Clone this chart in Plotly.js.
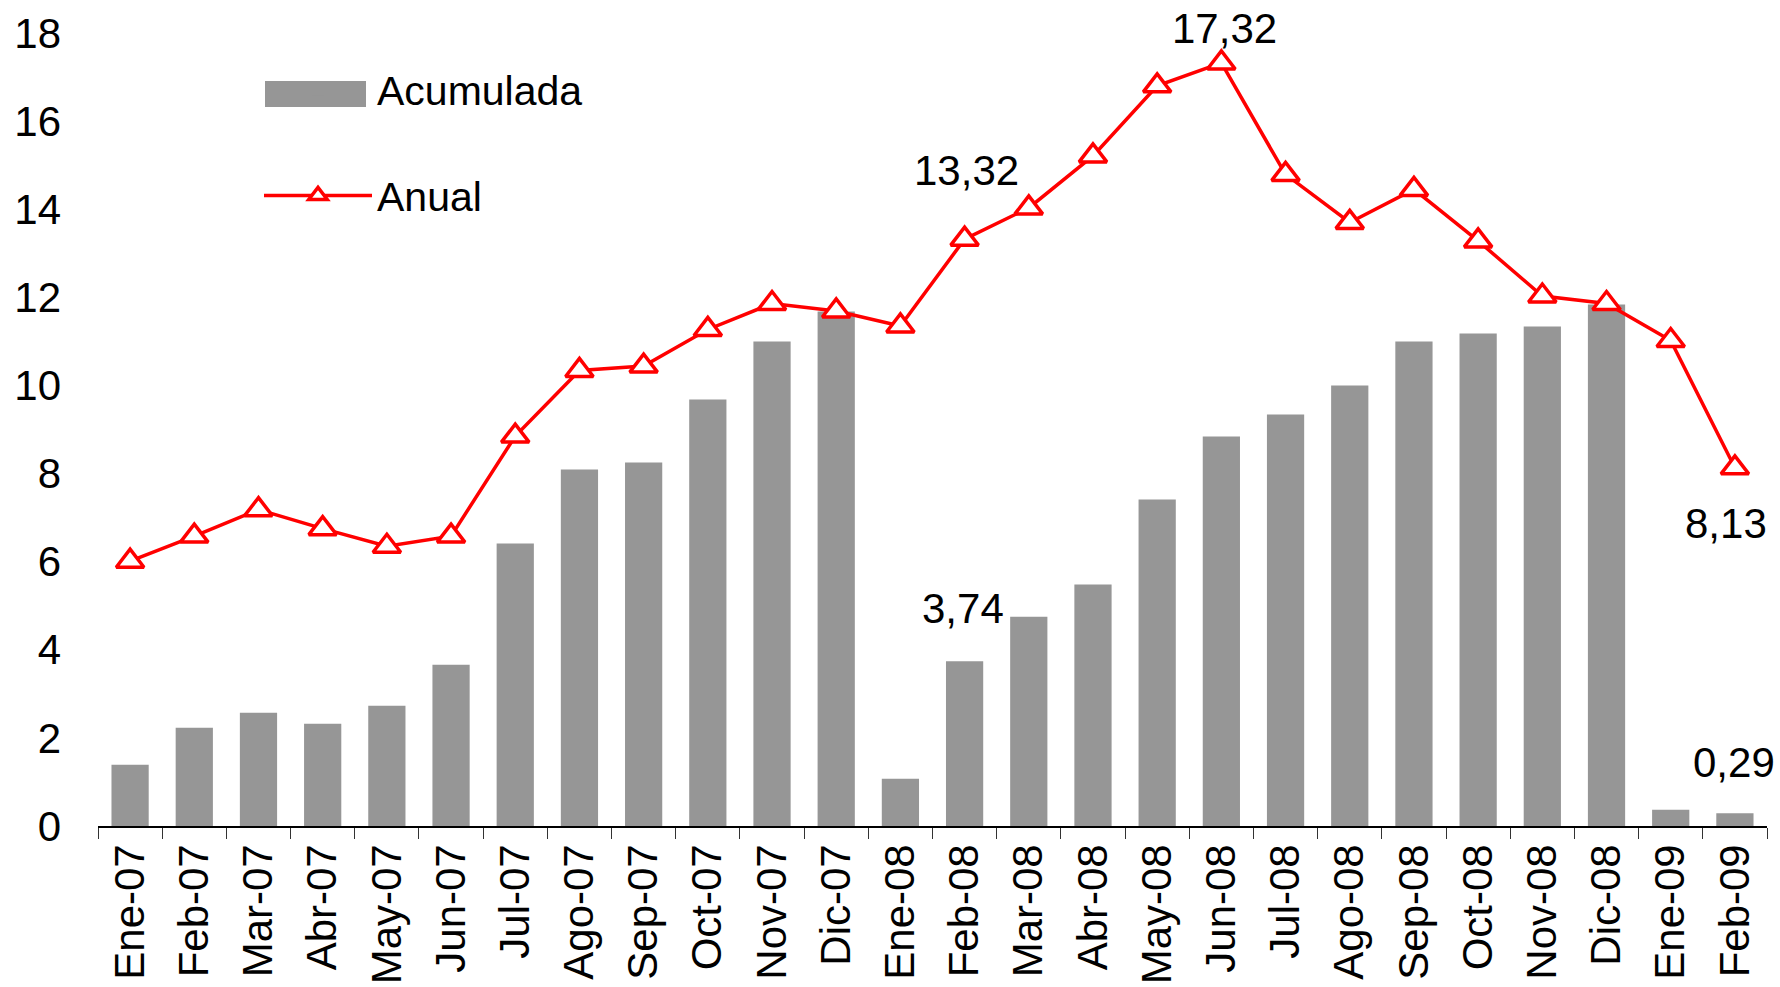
<!DOCTYPE html>
<html>
<head>
<meta charset="utf-8">
<script src="https://cdn.plot.ly/plotly-3.0.1.min.js"></script>
<style>
  html, body { margin: 0; padding: 0; background: #ffffff; }
  #chart { width: 1780px; height: 987px; }
</style>
</head>
<body>
<div id="chart"></div>
<script>
// ---- data ----
const categories = ["Ene-07","Feb-07","Mar-07","Abr-07","May-07","Jun-07","Jul-07","Ago-07","Sep-07","Oct-07","Nov-07","Dic-07",
                    "Ene-08","Feb-08","Mar-08","Abr-08","May-08","Jun-08","Jul-08","Ago-08","Sep-08","Oct-08","Nov-08","Dic-08",
                    "Ene-09","Feb-09"];
const acumulada = [1.39, 2.23, 2.57, 2.32, 2.73, 3.66, 6.41, 8.09, 8.25, 9.68, 11.00, 11.68,
                   1.07, 3.74, 4.75, 5.48, 7.41, 8.84, 9.34, 10.00, 11.00, 11.18, 11.34, 11.84,
                   0.37, 0.29];
const anual = [6.01, 6.58, 7.18, 6.75, 6.35, 6.58, 8.85, 10.34, 10.44, 11.27, 11.86, 11.69,
               11.35, 13.32, 14.03, 15.21, 16.80, 17.32, 14.79, 13.70, 14.45, 13.28, 12.03, 11.86,
               11.02, 8.13];
const seriesNames = ["Acumulada", "Anual"];
const yTicks = [0, 2, 4, 6, 8, 10, 12, 14, 16, 18];
// labelled points: [series, category, text]
const labelled = [
  ["anual", "Feb-08", "13,32"],
  ["anual", "Jun-08", "17,32"],
  ["anual", "Feb-09", "8,13"],
  ["acumulada", "Feb-08", "3,74"],
  ["acumulada", "Feb-09", "0,29"]
];

// ---- style ----
const FONT = "'Liberation Sans', Arial, sans-serif";
const BAR_COLOR = "#969696";
const LINE_COLOR = "#ff0000";

const traces = [
  {
    type: "bar", name: seriesNames[0], x: categories, y: acumulada,
    marker: { color: BAR_COLOR, line: { width: 0 } },
    legendgroup: "a", hoverinfo: "x+y"
  },
  {
    type: "scatter", mode: "lines+markers", name: seriesNames[1], x: categories, y: anual,
    line: { color: LINE_COLOR, width: 3.5 },
    marker: { symbol: "triangle-up", size: 24, color: "#ffffff", line: { color: LINE_COLOR, width: 3.5 } },
    cliponaxis: false, legendgroup: "b", hoverinfo: "x+y"
  }
];

// label offsets (px) keyed by text
const labelShift = {
  "13,32": { dx: 2, dy: 69 },
  "17,32": { dx: 3, dy: 34 },
  "8,13":  { dx: -9, dy: -56 },
  "3,74":  { dx: -2, dy: 53 },
  "0,29":  { dx: -1, dy: 51 }
};
const annotations = labelled.map(([s, cat, txt]) => {
  const idx = categories.indexOf(cat);
  const val = s === "anual" ? anual[idx] : acumulada[idx];
  return {
    x: cat, y: val, xref: "x", yref: "y", text: txt, showarrow: false,
    xshift: labelShift[txt].dx, yshift: labelShift[txt].dy,
    font: { family: FONT, size: 42, color: "#000000" },
    xanchor: "center", yanchor: "middle"
  };
});

const W = 1780, H = 987;
const ml = 98, mr = 13, mt = 33, mb = 161;
const pw = W - ml - mr, ph = H - mt - mb;
const px2x = p => (p - ml) / pw;
const px2y = p => 1 - (p - mt) / ph;

// legend bar swatch (wider rectangle as in reference)
const shapes = [
  { type: "rect", xref: "paper", yref: "paper",
    x0: px2x(265), x1: px2x(366), y0: px2y(107), y1: px2y(81),
    fillcolor: BAR_COLOR, line: { width: 0 }, layer: "below" }
];

const layout = {
  width: W, height: H,
  margin: { l: ml, r: mr, t: mt, b: mb, pad: 0 },
  paper_bgcolor: "#ffffff", plot_bgcolor: "#ffffff",
  font: { family: FONT, size: 42, color: "#000000" },
  bargap: 0.42,
  showlegend: true,
  legend: {
    x: px2x(259), y: px2y(56), xanchor: "left", yanchor: "top",
    bgcolor: "rgba(0,0,0,0)", borderwidth: 0,
    font: { family: FONT, size: 41, color: "#000000" },
    itemwidth: 108, traceorder: "grouped", tracegroupgap: 50
  },
  xaxis: {
    type: "category", categoryorder: "array", categoryarray: categories,
    range: [-0.5, categories.length - 0.5], autorange: false,
    showline: true, linecolor: "#000000", linewidth: 1.5,
    ticks: "outside", tickson: "boundaries", ticklen: 11, tickwidth: 1, tickcolor: "#333333",
    tickangle: -90, tickfont: { family: FONT, size: 42, color: "#000000" },
    showgrid: false, zeroline: false, fixedrange: true
  },
  yaxis: {
    range: [0, 18], autorange: false, tickmode: "array", tickvals: yTicks, ticktext: yTicks.map(String),
    showline: false, showgrid: false, zeroline: false, ticks: "",
    ticklabelstandoff: 36,
    tickfont: { family: FONT, size: 42, color: "#000000" }, fixedrange: true
  },
  annotations: annotations,
  shapes: shapes
};

Plotly.newPlot("chart", traces, layout, { displayModeBar: false, staticPlot: true });
</script>
</body>
</html>
